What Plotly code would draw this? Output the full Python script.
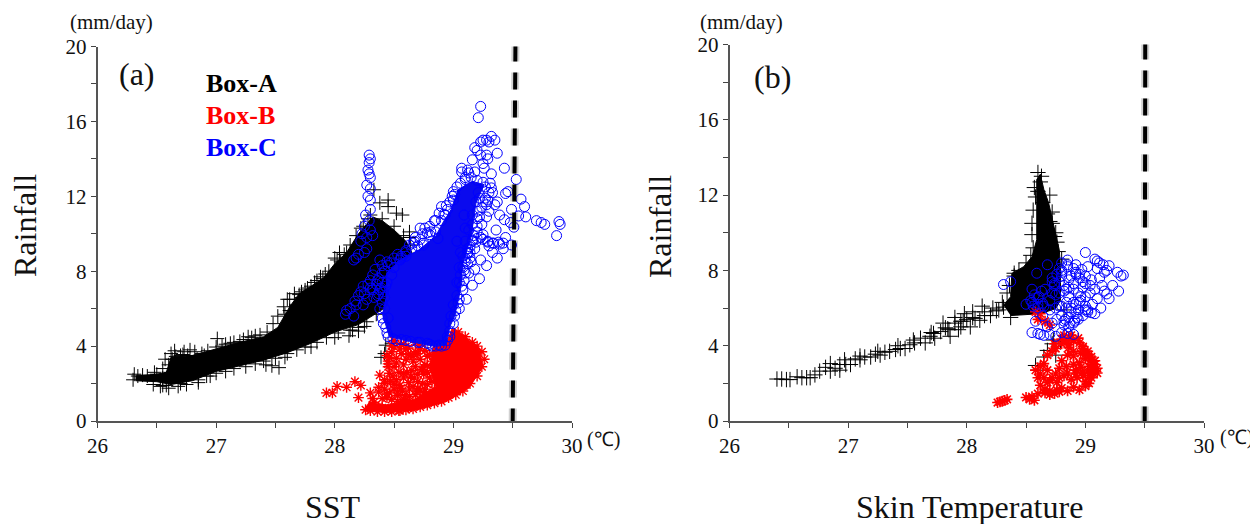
import plotly.graph_objects as go

# ---------- Panel (a) values ----------
a_core_x = [26.32,26.5,26.62,26.8,27.0,27.2,27.4,27.6,27.8,28.0,28.2,28.4,28.5,28.65,28.65,28.6,28.5,28.4,28.32,28.2,28.1,28.0,27.9,27.7,27.62,27.52,27.4,27.2,27.0,26.8,26.62,26.58,26.5,26.32]
a_core_y = [2.15,2.1,1.95,2.15,2.65,2.95,3.25,3.65,4.15,4.75,5.15,5.95,6.45,7.7,9.0,9.6,10.2,10.7,10.9,10.0,9.0,8.4,7.6,6.8,6.1,5.0,4.5,4.2,3.85,3.5,3.4,2.6,2.5,2.4]
a_x = [26.3,26.31,26.34,26.38,26.42,26.47,26.48,26.5,26.53,26.58,26.62,26.63,26.66,26.7,26.73,26.76,26.82,26.84,26.9,27.01,27.05,27.12,27.2,27.27,27.3,27.37,27.47,27.53,27.42,27.58,27.62,27.66,27.7,27.75,27.8,27.85,27.9,27.92,28.0,28.04,28.05,28.1,28.12,28.15,28.0,27.8,28.22,28.3,28.33,28.38,28.45,28.45,28.52,28.57,28.63,28.63,28.42,28.39,28.43,28.48,27.68,27.72,27.62,27.58,26.62,26.7,26.85,26.95,28.2,28.25]
a_y = [2.2,2.5,2.4,2.45,2.4,1.95,2.6,2.5,1.85,1.9,3.6,3.3,3.45,3.5,3.7,3.5,3.7,3.3,3.5,4.4,4.0,4.15,4.25,4.5,4.45,4.6,2.95,2.85,3.0,3.4,6.5,6.8,6.75,7.0,7.2,7.5,7.6,7.85,8.7,9.0,8.5,9.0,4.55,4.85,4.45,3.95,10.3,11.0,12.35,11.65,11.8,11.45,11.1,11.0,10.1,9.8,3.6,3.4,4.05,4.15,6.2,6.6,5.9,5.7,2.3,2.0,2.05,2.4,4.8,5.05]
a_edge_x = [26.65,26.72,26.78,26.88,26.93,27.0,27.08,27.15,27.23,27.33,27.43,27.48,27.52,27.57,27.6,27.72,27.77,27.83,27.88,27.95,28.02,28.08,28.13,28.18,28.24,28.28,
            26.55,26.6,26.68,26.75,26.85,26.92,27.0,27.08,27.15,27.25,27.33,27.4,27.5,27.6,27.68,27.75,27.85,27.93,28.03,28.13,28.2,28.27,28.35,28.42,
            26.55,26.57,26.6,26.62,26.55,28.4,28.5,28.58,28.64]
a_edge_y = [3.75,3.55,3.8,3.6,3.75,3.95,4.1,4.2,4.35,4.55,4.75,5.2,5.6,6.1,6.5,6.9,7.1,7.4,7.7,8.0,8.6,8.9,9.4,9.9,10.4,10.8,
            1.9,1.75,1.85,1.95,2.2,2.4,2.55,2.65,2.8,2.9,3.05,3.2,3.35,3.6,3.8,3.95,4.2,4.45,4.7,4.85,5.0,5.3,5.7,6.0,
            2.8,3.3,3.0,2.6,2.3,10.8,10.4,9.9,9.4]

a_red_core_x = [28.24,28.43,28.69,28.94,29.13,29.25,29.22,29.08,28.99,28.94,28.83,28.8,28.85,28.66,28.43,28.29]
a_red_core_y = [0.59,0.45,0.59,1.03,1.75,2.9,3.8,4.6,4.95,4.15,3.98,2.9,1.84,1.12,0.86,1.03]
b_x = [27.93,27.98,28.02,28.1,28.17,28.2,28.22,28.3,28.37,28.38,28.37,28.32,28.33,28.4,28.42,28.44,28.45,28.46,28.49,28.52,28.55,28.57,28.6,28.63,28.68,28.72,28.76,28.42,28.45,28.5,28.54,28.58,28.62,28.66,28.7,28.74,28.78,28.82,28.46,28.48,28.52,28.58,28.65,28.7,28.78,28.44,28.5,28.56,28.6,28.68,28.73,28.78,28.82,28.45,28.48,28.56,28.64,28.72,28.78,28.5,28.55,28.62,28.66,28.72,28.76,28.8,28.58,28.64,28.7,28.75,28.8,28.5,28.53,28.6,28.72,28.82,28.58,28.68,28.76,28.85,28.9,28.6,28.7,28.85,28.95,28.4,28.47,28.55,28.62,28.76]
b_y = [1.5,1.5,1.85,1.8,2.1,1.25,1.9,1.5,1.55,2.45,1.8,1.2,1.0,1.2,1.7,1.25,2.9,2.55,2.4,2.2,1.9,1.6,1.4,1.3,1.4,1.6,1.7,2.0,3.2,2.9,2.6,2.3,2.05,1.85,2.1,2.0,1.95,2.1,3.4,3.7,3.35,3.0,2.7,2.5,2.6,3.5,3.95,3.6,3.3,2.9,2.75,2.95,2.7,3.05,4.0,4.1,3.55,3.3,3.45,4.3,3.85,3.9,3.45,3.85,3.75,3.55,2.55,2.35,1.75,1.5,1.4,1.7,1.55,1.0,1.15,1.4,4.1,4.2,4.25,4.35,4.25,0.8,0.85,1.25,3.6,0.7,0.65,0.55,0.7,0.95]
b2_x = [28.26,28.3,28.36,28.42,28.48,28.54,28.6,28.66,28.72,28.78,28.84,28.9,28.96,29.02,29.08,29.14,29.2,29.24,29.26,29.24,29.2,29.16,29.1,29.04,28.48,28.53,28.59,28.63,28.69,28.75,28.8,28.84,28.5,28.56,28.61,28.67,28.75,28.8,28.44,28.47,28.53,28.58,28.66,28.7,28.76,28.83,28.62,28.68,28.71,28.74,28.52,28.6,28.66,28.42,28.46]
b2_y = [0.6,0.55,0.5,0.5,0.5,0.55,0.6,0.65,0.75,0.85,0.95,1.05,1.25,1.4,1.6,2.0,2.4,2.9,3.3,3.7,4.0,4.2,4.5,4.75,1.15,1.05,1.1,1.7,1.6,1.2,1.2,1.65,1.95,1.75,2.6,2.3,2.5,2.3,1.45,2.1,1.35,1.15,1.0,3.6,3.0,3.2,3.55,3.7,4.05,2.75,3.1,3.85,3.2,2.2,1.5]

c_core_x = [28.4,28.46,28.63,28.85,28.94,28.97,29.01,29.06,29.08,29.15,29.19,29.26,29.16,29.04,28.98,28.91,28.85,28.71,28.55,28.44,28.43]
c_core_y = [5.76,4.51,4.24,3.98,4.06,5.04,5.58,7.0,8.43,9.86,11.64,12.62,12.8,12.35,11.28,10.57,9.86,9.14,8.6,7.9,6.65]
c_x = [28.29,28.3,28.29,28.28,28.29,28.3,28.27,28.3,28.28,28.3,28.3,28.26,28.29,28.25,28.3,28.23,28.22,28.27,28.32,28.27,28.25,28.2,28.18,28.16,
       28.09,28.1,28.13,28.16,28.17,28.18,28.2,28.22,28.24,28.25,28.28,28.3,28.32,28.35,28.37,28.34,28.4,28.38,28.4,28.4,28.43,28.45,28.5,
       29.23,29.21,29.25,29.28,29.32,29.35,29.3,29.23,29.18,29.2,29.37,29.28,29.23,29.29,29.16,29.25,29.43,29.26,29.07,29.12,29.18,29.07,29.13,29.32,29.1,29.53,29.31,29.06,29.32,29.0,29.46,29.33,29.44,29.57,29.29,29.37,29.25,29.35,29.6,28.9,28.94,29.28,29.49,28.92,29.39,29.55,29.61,29.2,29.43,28.85,29.48,29.7,29.74,29.77,29.89,29.9,29.87,29.51,29.36,29.2,28.78,28.81,28.87,29.44,29.25,29.29,29.33,29.39,29.16,29.49,29.42,29.33,29.37,29.12,29.23,29.28,29.15,29.18,29.09,29.13,29.22,29.16,29.08,29.11,29.05,29.01,
       28.45,28.52,28.6,28.7,28.8,28.85,28.93,28.95,28.43,28.4,28.97,28.66,28.74,28.68,28.6,28.56,28.75,28.72,29.03,29.06,29.1,29.09,28.99,
       28.42,28.45,28.48,28.55,28.6,28.65,28.7,28.75,28.8,28.85,28.9,28.95,29.0,29.03,29.1,29.15,29.2,29.25,29.27,29.22,29.2,29.16,29.1,29.08,29.05,29.05,29.03,29.0,28.98,28.97,28.95,28.88,28.78,28.72,28.64,28.56,28.49,28.44,28.41,28.38,28.42,28.44,
       28.32,28.36,28.39,28.33,28.37,28.41,28.3,28.27,28.24,29.16,29.2,29.25,29.29,29.34,29.38,29.42,29.3,29.23,29.19,29.12,29.14,29.1,29.12,
       28.36,28.38,28.4,28.42,28.44,28.47,28.5,28.53,28.56,28.6,28.63,28.67,28.72,28.76,28.8,28.84,28.88,28.93,28.97,29.01,
       29.03,29.06,29.08,29.1,29.12,29.14,29.07,29.05,29.09,29.1,29.14,29.18,29.17,29.2,29.22,29.24,29.27,29.3,29.24,29.28,29.3,29.13,29.16,29.19,29.21,29.02,29.04,29.0,28.97,28.9,28.82]
c_y = [14.2,14.0,13.8,13.4,13.2,13.0,12.6,12.4,12.0,11.8,11.3,11.0,10.7,10.4,10.2,10.0,9.6,9.8,9.9,9.2,9.0,8.9,8.7,8.6,
       5.7,5.9,6.0,5.6,6.4,6.2,6.7,6.9,7.2,6.8,7.3,7.5,7.0,7.3,7.6,8.1,7.9,8.6,8.3,6.3,7.2,8.3,8.2,
       16.8,16.2,15.0,15.0,15.2,15.0,14.9,14.9,14.6,14.45,14.3,14.2,14.2,14.0,13.95,13.75,13.5,13.5,13.5,13.4,13.3,13.3,13.25,13.2,13.0,12.9,12.7,12.7,12.45,12.25,12.25,12.2,12.15,11.85,11.8,11.7,11.7,11.55,11.45,11.45,11.5,11.55,11.3,11.05,11.0,10.95,10.9,10.8,10.75,10.7,10.6,10.7,10.6,10.5,10.65,10.5,9.9,10.35,10.2,10.1,10.05,10.1,9.75,9.8,9.95,9.6,9.5,9.45,9.6,9.4,9.2,9.0,8.7,8.95,8.6,8.3,8.5,8.1,8.05,7.9,7.6,7.25,7.0,6.5,6.0,5.6,
       4.5,4.3,4.3,4.2,4.1,4.0,4.05,4.5,5.0,5.5,5.2,9.5,10.0,9.8,9.0,8.8,9.4,10.3,9.6,9.0,10.3,11.0,12.0,
       6.0,5.5,7.8,8.6,8.8,9.2,9.35,9.5,9.95,10.1,10.7,11.3,11.8,12.5,12.9,13.0,12.85,12.75,12.5,11.9,11.2,10.5,9.6,8.8,8.2,7.4,6.7,6.2,5.6,4.8,4.3,4.05,4.15,4.2,4.25,4.35,4.4,4.7,5.2,6.0,6.6,7.4,
       7.8,7.5,7.1,6.6,6.8,6.9,7.1,6.5,6.2,9.65,9.75,9.7,9.55,9.5,9.55,9.5,9.35,9.8,9.55,9.2,9.0,8.7,8.4,
       6.7,7.0,7.4,8.0,8.5,8.45,8.7,8.9,8.7,9.1,9.4,9.6,9.7,10.3,10.4,10.7,11.1,11.0,11.7,12.1,
       7.4,7.8,8.2,8.5,9.0,9.3,7.2,6.5,7.5,7.9,8.7,9.2,9.9,10.4,10.9,11.4,11.9,12.2,10.5,10.9,11.2,10.2,11.0,11.7,12.2,5.9,6.3,5.2,4.5,4.0,4.0]

# ---------- Panel (b) values ----------
d_core_x = [28.31,28.37,28.38,28.48,28.55,28.59,28.59,28.59,28.62,28.65,28.69,28.73,28.78,28.79,28.79,28.75,28.62,28.37]
d_core_y = [6.15,6.6,7.84,8.2,8.73,9.63,11.59,12.83,13.1,12.3,11.59,10.52,9.09,8.2,6.42,5.97,5.7,5.6]
d_x = [26.4,26.44,26.48,26.51,26.57,26.61,26.65,26.68,26.72,26.76,26.81,26.85,26.89,26.93,26.97,27.02,27.06,27.1,27.14,27.19,27.23,27.27,27.31,27.35,27.4,27.44,27.48,27.52,27.56,27.61,27.65,27.69,27.73,27.78,27.82,27.86,27.9,27.93,27.95,28.03,28.11,28.2,28.31,28.37,28.4,28.25,28.15,28.07,28.0,27.97,
       28.6,28.63,28.57,28.62,28.56,28.58,28.55,28.55,28.75,28.72,28.7,28.76,28.72,28.58,28.6,28.65,28.68,28.75,28.72,28.73,28.79,28.82,26.85,26.93,26.98,27.1,27.25,27.42,27.55,27.7,27.85,27.95,28.05,28.15,
       28.6,28.64,28.68,28.7,28.74,28.77,28.8,28.56,28.54,28.5,28.44,28.4,28.36,28.34,28.3,28.27,27.9,27.98,28.05,28.13,28.22,27.8,27.84,27.72]
d_y = [2.23,2.23,2.2,2.2,2.35,2.3,2.3,2.3,2.45,2.65,2.85,3.05,2.8,3.0,3.25,3.0,3.3,3.25,3.4,3.4,3.55,3.5,3.65,3.7,3.8,3.85,3.85,4.05,4.15,4.4,4.15,4.5,4.4,4.75,4.95,4.5,5.2,4.85,5.0,5.0,5.35,5.6,6.05,5.5,7.85,5.85,5.6,5.45,5.4,5.3,
       13.2,13.0,12.4,12.7,11.2,11.9,10.5,9.9,10.0,11.1,12.0,9.5,10.5,2.95,2.7,3.4,3.75,3.5,4.1,4.3,4.2,5.9,2.65,2.7,3.0,3.45,3.7,4.0,4.3,4.7,4.85,5.3,5.5,5.8,
       12.2,11.6,11.0,10.6,9.8,9.0,8.6,9.2,8.8,8.4,8.0,7.7,7.2,6.8,6.3,5.9,5.5,5.7,5.8,6.1,6.0,5.2,4.9,4.65]

e_x = [28.26,28.28,28.3,28.32,28.34,28.5,28.53,28.55,28.57,28.6,28.62,28.6,28.58,28.62,28.65,28.68,28.72,28.76,28.8,28.85,28.9,28.95,29.0,29.03,29.05,29.07,29.08,29.05,29.02,28.98,28.95,28.9,28.87,28.83,28.8,28.75,28.72,28.68,28.66,28.7,28.76,28.82,28.88,28.93,28.98,29.03,28.9,28.95,29.0,28.85,28.8,28.78,28.75,28.7,28.68,28.65,28.62,28.66,28.7,28.74,28.78,28.84,28.9,28.96,29.0,28.86,28.8,28.74,28.7,28.66,28.62,28.58,28.6,28.82,28.88,28.94,28.98,28.92,28.85,28.78,
       29.0,29.04,29.07,29.1,29.08,29.04,28.96,29.02,29.06,28.92,28.98,29.1,29.06,29.02,28.86,28.9]
e_y = [0.98,1.02,1.05,1.1,1.15,1.25,1.15,1.3,1.1,1.45,1.9,2.3,2.7,2.9,3.05,2.7,2.3,2.05,1.75,1.6,1.8,1.65,1.85,2.0,2.3,2.7,3.0,3.4,3.7,3.95,4.15,4.25,4.4,4.3,4.1,3.85,3.7,3.5,1.7,1.6,1.65,2.4,2.2,2.3,2.6,2.9,3.0,3.1,3.3,3.5,3.2,2.8,2.5,2.15,2.05,2.3,2.5,1.5,1.4,1.45,1.55,2.9,3.7,3.6,3.55,4.05,4.35,4.1,5.1,5.3,5.7,5.8,5.4,4.55,4.55,4.4,2.4,2.7,2.55,2.3,
       2.1,2.4,2.5,2.8,3.2,3.2,2.85,3.55,3.0,2.5,3.85,2.55,2.7,2.6,3.9,3.45]

f_x = [28.31,28.37,28.59,28.55,28.57,28.61,28.55,28.6,28.64,28.56,28.5,28.54,28.6,28.65,28.7,28.72,28.74,28.8,28.8,28.85,28.92,28.97,29.0,29.02,29.1,29.08,29.12,29.15,29.1,29.18,29.2,29.27,29.3,29.32,29.23,29.28,29.14,29.16,29.18,29.2,29.13,29.08,29.05,29.02,29.0,28.95,28.9,28.85,28.8,28.75,28.7,28.65,28.62,28.6,28.55,28.58,28.64,28.68,28.72,28.76,28.82,28.86,28.9,28.94,28.98,29.02,29.06,29.1,28.75,28.8,28.84,28.88,28.92,28.96,29.0,29.04,28.78,28.82,28.86,28.9,28.94,28.98,28.74,28.78,28.82,28.86,28.9,28.95,28.72,28.76,28.8,28.84,28.88,28.92,28.7,28.75,28.8,28.85,28.9,28.95,29.0,29.05,29.0,29.04,29.08,29.12,29.16,28.98,28.92,28.85,28.78,28.68,28.72,28.66,28.63,28.6,
       28.84,28.86,28.88,28.9,28.92,28.94,28.78,28.8,28.83,28.87,28.91,28.93,28.96,29.0,28.82,28.86]
f_y = [7.25,7.4,7.85,7.0,6.7,6.6,6.3,6.2,6.25,6.1,6.2,6.4,6.55,6.1,5.9,6.8,7.3,8.0,8.4,8.55,8.3,8.05,8.95,8.2,8.5,8.6,8.4,8.3,8.1,8.0,8.25,7.9,7.7,7.75,7.2,6.9,7.2,6.9,6.75,6.5,6.0,5.7,5.75,5.9,6.1,6.3,4.6,4.65,4.7,4.5,4.6,4.55,4.6,4.65,4.7,5.3,5.6,5.0,5.2,5.4,5.1,5.0,5.2,5.4,5.6,5.8,6.2,6.5,6.0,6.1,6.3,6.0,6.2,6.4,6.6,6.8,6.8,6.9,6.6,7.0,6.8,7.1,7.2,7.4,7.2,7.5,7.3,7.6,7.6,7.8,7.7,7.0,7.7,7.9,6.4,6.7,7.9,8.2,8.1,7.8,7.7,7.5,7.3,7.2,7.0,7.6,7.9,7.4,7.8,8.3,8.1,8.3,7.4,7.0,6.9,6.0,6.0,
       5.5,5.8,6.3,5.7,5.9,6.1,5.6,5.4,5.2,5.3,5.5,6.6,5.9,5.3,7.1,6.9]

y_ticks = [0,2,4,6,8,10,12,14,16,18,20]
y_labels = ["0","","4","","8","","12","","16","","20"]
x_ticks = [26,26.5,27,27.5,28,28.5,29,29.5,30]
x_labels = ["26","","27","","28","","29","","30"]
limit_x_a = [29.525,29.5]
limit_x_b = [29.505,29.5]
limit_y = [21.6,0]

OFF = 8            # the page's own margin
W, H = 1258 - OFF, 524 - OFF
fig = go.Figure()
SERIF = "Liberation Serif"

def core(x, y, color, ax):
    fig.add_trace(go.Scatter(x=x, y=y, mode="lines", fill="toself", fillcolor=color,
                             line=dict(color=color, width=1), hoverinfo="skip",
                             xaxis=ax[0], yaxis=ax[1], cliponaxis=False))

def pts(x, y, sym, size, color, lw, ax):
    fig.add_trace(go.Scatter(x=x, y=y, mode="markers",
                             marker=dict(symbol=sym, size=size, color=color, line=dict(color=color, width=lw)),
                             xaxis=ax[0], yaxis=ax[1], cliponaxis=False))

A = ("x", "y"); B = ("x2", "y2")
core(a_core_x, a_core_y, "#000000", A); pts(a_x + a_edge_x, a_y + a_edge_y, "cross-thin", 10, "#000000", 1, A)
core(a_red_core_x, a_red_core_y, "#ff0000", A); pts(b_x + b2_x, b_y + b2_y, "asterisk", 9, "#ff0000", 1.4, A)
core(c_core_x, c_core_y, "#0a0aee", A); pts(c_x, c_y, "circle-open", 10, "#0000ff", 1, A)
core(d_core_x, d_core_y, "#000000", B); pts(d_x, d_y, "cross-thin", 11, "#000000", 1, B)
pts(e_x, e_y, "asterisk", 9, "#ff0000", 1.6, B)
pts(f_x, f_y, "circle-open", 10, "#0000ff", 1, B)

for xs, ax in ((limit_x_a, A), (limit_x_b, B)):
    fig.add_trace(go.Scatter(x=xs, y=limit_y, mode="lines", line=dict(color="rgba(0,0,0,0.18)", width=8, dash="17px,11px"),
                             xaxis=ax[0], yaxis=ax[1], cliponaxis=False, hoverinfo="skip"))
    fig.add_trace(go.Scatter(x=xs, y=limit_y, mode="lines", line=dict(color="#000000", width=4, dash="17px,11px"),
                             xaxis=ax[0], yaxis=ax[1], cliponaxis=False, hoverinfo="skip"))

xa = dict(range=[26,30], tickvals=x_ticks, ticktext=x_labels, ticks="outside", ticklen=5, tickcolor="#444444",
          showline=True, linecolor="#555555", linewidth=1.5, showgrid=False, zeroline=False, automargin=False,
          tickfont=dict(family=SERIF, size=21, color="#111111"))
ya = dict(range=[0,20], tickvals=y_ticks, ticktext=y_labels, ticks="outside", ticklen=5, tickcolor="#444444",
          showline=True, linecolor="#555555", linewidth=1.5, showgrid=False, zeroline=False, automargin=False,
          tickfont=dict(family=SERIF, size=21, color="#111111"))

def ann(text, px, py, size, color="#111111", bold=False, angle=0, anchor="center"):
    t = f"<b>{text}</b>" if bold else text
    return dict(text=t, x=(px-OFF)/W, y=1-(py-OFF)/H, xref="paper", yref="paper", showarrow=False, xanchor=anchor, yanchor="middle",
                textangle=angle, font=dict(family=SERIF, size=size, color=color))

anns = [
    ann("(mm/day)", 111, 22, 21), ann("(mm/day)", 741, 22, 21),
    ann("(a)", 137, 74, 32), ann("(b)", 772, 77, 32),
    ann("Box-A", 204, 83, 26, "#000000", True, anchor="left"),
    ann("Box-B", 204, 115, 26, "#ff0000", True, anchor="left"),
    ann("Box-C", 204, 147, 26, "#0000ff", True, anchor="left"),
    ann("Rainfall", 25, 226, 32, angle=-90), ann("Rainfall", 660, 226, 32, angle=-90),
    ann("SST", 333, 507, 32), ann("Skin Temperature", 969, 507, 32),
    ann("(℃)", 603, 439, 20), ann("(℃)", 1236, 437, 20),
]

fig.update_layout(
    width=W, height=H, autosize=False, margin=dict(l=0,r=0,t=0,b=0,autoexpand=False), showlegend=False,
    paper_bgcolor="white", plot_bgcolor="white", annotations=anns,
    xaxis=dict(xa, domain=[(97.5-OFF)/W, (572-OFF)/W], anchor="y"),
    yaxis=dict(ya, domain=[1-(421-OFF)/H, 1-(46.5-OFF)/H], anchor="x"),
    xaxis2=dict(xa, domain=[(729.5-OFF)/W, (1204-OFF)/W], anchor="y2"),
    yaxis2=dict(ya, domain=[1-(421-OFF)/H, 1-(44.5-OFF)/H], anchor="x2"),
)
fig.write_html("out.html")
